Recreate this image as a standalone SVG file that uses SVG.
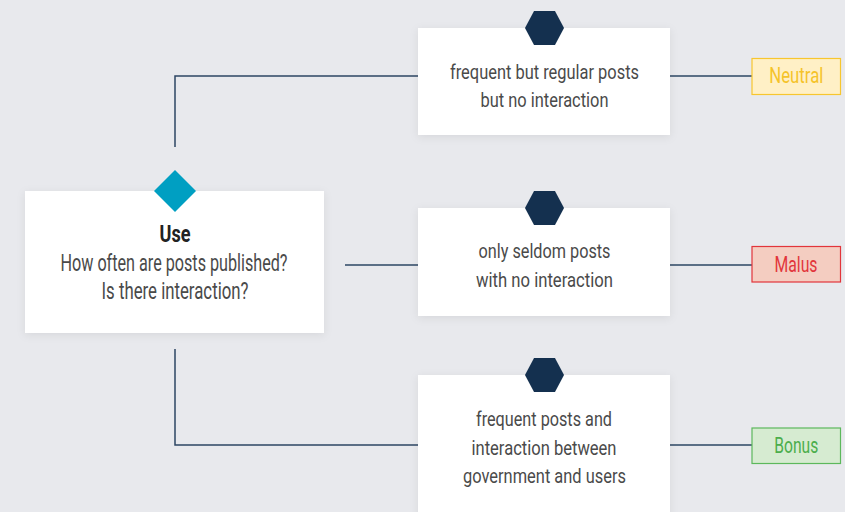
<svg xmlns="http://www.w3.org/2000/svg" width="845" height="512" viewBox="0 0 845 512">
<style>
.box{fill:#ffffff;filter:url(#sh)}
.t{font-family:Roboto,"Liberation Sans",sans-serif;font-size:20px;fill:#4a4a4a;text-anchor:middle}
.big{font-size:23px}
.b{font-weight:bold;fill:#222222}
.hex{fill:#14304f}
.con{fill:none;stroke:#2d4663;stroke-width:1.5}
.lab{font-family:Roboto,"Liberation Sans",sans-serif;font-size:22px;text-anchor:middle}
</style>
<defs>
<filter id="sh" x="-10%" y="-10%" width="120%" height="125%">
<feDropShadow dx="0" dy="2" stdDeviation="4" flood-color="#000" flood-opacity="0.08"/>
</filter>
</defs>
<rect width="845" height="512" fill="#e8e9ed"/>
<g id="connectors">
<polyline class="con" points="175,147 175,76 418,76"/>
<polyline class="con" points="175,349 175,445 418,445"/>
<line class="con" x1="345" y1="265" x2="418" y2="265"/>
<line class="con" x1="670" y1="76" x2="752" y2="76"/>
<line class="con" x1="670" y1="265" x2="752" y2="265"/>
<line class="con" x1="670" y1="445" x2="752" y2="445"/>
</g>
<g id="use">
<rect class="box" x="25" y="191" width="299" height="142"/>
<polygon points="175,170 196,191 175,212 154,191" fill="#009fc2"/>
<text class="t big b" x="175" y="241.5" textLength="31" lengthAdjust="spacingAndGlyphs">Use</text>
<text class="t big" x="174" y="270.5" textLength="227" lengthAdjust="spacingAndGlyphs">How often are posts published?</text>
<text class="t big" x="175" y="298.5" textLength="147" lengthAdjust="spacingAndGlyphs">Is there interaction?</text>
</g>
<g id="neutral-case">
<rect class="box" x="418" y="28" width="252" height="107"/>
<polygon class="hex" points="525,28 534,11 555,11 564,28 555,45 534,45"/>
<text class="t" x="544.5" y="78.5" textLength="189" lengthAdjust="spacingAndGlyphs">frequent but regular posts</text>
<text class="t" x="544.5" y="106.5" textLength="128" lengthAdjust="spacingAndGlyphs">but no interaction</text>
</g>
<g id="malus-case">
<rect class="box" x="418" y="208" width="252" height="108"/>
<polygon class="hex" points="525,208 534,191 555,191 564,208 555,225 534,225"/>
<text class="t" x="544.5" y="258" textLength="132" lengthAdjust="spacingAndGlyphs">only seldom posts</text>
<text class="t" x="544.5" y="286.5" textLength="137" lengthAdjust="spacingAndGlyphs">with no interaction</text>
</g>
<g id="bonus-case">
<rect class="box" x="418" y="375" width="252" height="145"/>
<polygon class="hex" points="525,375 534,358 555,358 564,375 555,392 534,392"/>
<text class="t" x="544" y="426" textLength="136" lengthAdjust="spacingAndGlyphs">frequent posts and</text>
<text class="t" x="544" y="454.5" textLength="145" lengthAdjust="spacingAndGlyphs">interaction between</text>
<text class="t" x="544.5" y="483" textLength="163" lengthAdjust="spacingAndGlyphs">government and users</text>
</g>
<g id="neutral">
<rect x="752" y="58.5" width="88.5" height="36" fill="#fff0c6" stroke="#f7c62f" stroke-width="1.2"/>
<text class="lab" x="796.3" y="83" fill="#f5c32a" textLength="54" lengthAdjust="spacingAndGlyphs">Neutral</text>
</g>
<g id="malus">
<rect x="752" y="246.5" width="88.5" height="35.5" fill="#f4cdc1" stroke="#e2353b" stroke-width="1.2"/>
<text class="lab" x="796" y="271.5" fill="#e2353b" textLength="43" lengthAdjust="spacingAndGlyphs">Malus</text>
</g>
<g id="bonus">
<rect x="752" y="428" width="88.5" height="35.5" fill="#d6ebd1" stroke="#5cb85c" stroke-width="1.2"/>
<text class="lab" x="796.3" y="453" fill="#4cae4c" textLength="44" lengthAdjust="spacingAndGlyphs">Bonus</text>
</g>
</svg>
